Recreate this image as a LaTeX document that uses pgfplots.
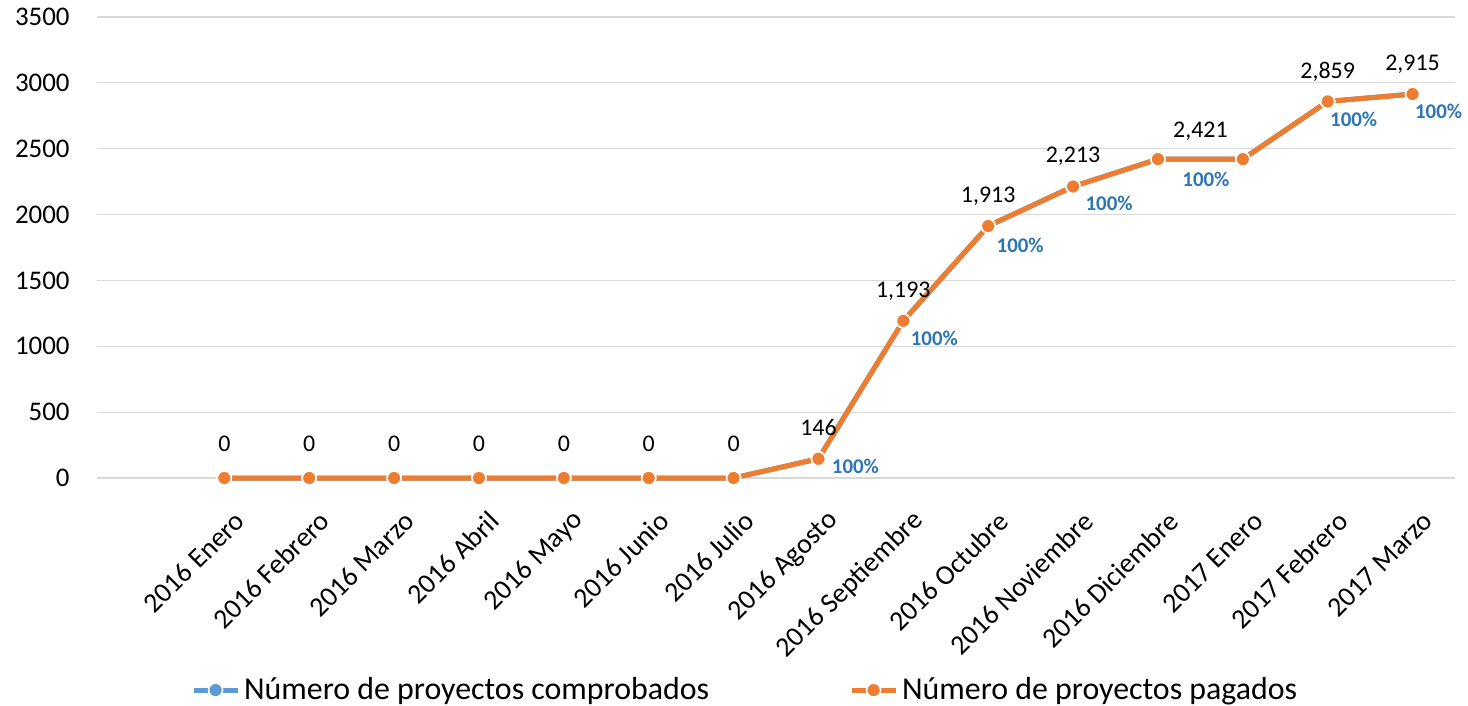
\documentclass[border=0pt]{standalone}
\usepackage{pgfplots}
\pgfplotsset{compat=1.18}
\usepackage{fontspec}
\setmainfont{Carlito}
\definecolor{xorange}{HTML}{ED7D31}
\definecolor{xblue}{HTML}{5B9BD5}
\definecolor{lblblue}{HTML}{2E75B6}
\definecolor{gridgray}{HTML}{D9D9D9}
\tikzset{vlab/.style={font=\fontsize{12}{14}\selectfont},
  plab/.style={font=\bfseries\fontsize{10.5}{12}\selectfont, text=lblblue}}
\begin{document}
\begin{tikzpicture}
\useasboundingbox (-48.5bp,-114bp) rectangle (685.5bp,239bp);
\begin{axis}[
  at={(0,0)}, anchor=south west,
  scale only axis, width=679bp, height=230.5bp,
  xmin=-1.5, xmax=14.5, ymin=0, ymax=3500,
  axis line style={draw=none},
  major tick length=0pt,
  ytick={0,500,...,3500},
  ymajorgrids, grid style={gridgray, line width=0.6bp},
  xtick={0,...,14},
  xticklabels={2016 Enero,2016 Febrero,2016 Marzo,2016 Abril,2016 Mayo,2016 Junio,2016 Julio,2016 Agosto,2016 Septiembre,2016 Octubre,2016 Noviembre,2016 Diciembre,2017 Enero,2017 Febrero,2017 Marzo},
  xticklabel style={rotate=45, anchor=east, font=\fontsize{14}{16}\selectfont, inner sep=0pt, yshift=-19bp, xshift=-8bp},
  yticklabel style={font=\fontsize{13.5}{16}\selectfont, inner sep=0pt, xshift=-13.5bp},
  /pgf/number format/assume math mode=true,
  scaled y ticks=false,
  yticklabel={\pgfmathprintnumber[1000 sep={}]{\tick}},
  clip=false,
  legend columns=2,
  legend style={at={(0.478,-0.46)}, anchor=center, draw=none, font=\fontsize{16}{18}\selectfont,
    /tikz/every even column/.append style={column sep=68bp}},
  legend image code/.code={
    \draw[#1, mark=none] (0bp,0bp) -- (22bp,0bp);
    \draw[#1, only marks] plot coordinates {(11bp,0bp)};
  },
]
\addplot[xblue, line width=2.5bp, mark=*, mark size=3.5bp, mark options={fill=xblue, draw=white, line width=0.8bp}]
  coordinates {(0,0)(1,0)(2,0)(3,0)(4,0)(5,0)(6,0)(7,146)(8,1193)(9,1913)(10,2213)(11,2421)(12,2421)(13,2859)(14,2915)};
\addlegendentry{Número de proyectos comprobados}
\addplot[xorange, line width=2.5bp, mark=*, mark size=3.5bp, mark options={fill=xorange, draw=white, line width=0.8bp}]
  coordinates {(0,0)(1,0)(2,0)(3,0)(4,0)(5,0)(6,0)(7,146)(8,1193)(9,1913)(10,2213)(11,2421)(12,2421)(13,2859)(14,2915)};
\addlegendentry{Número de proyectos pagados}
% value labels
\node[vlab] at (axis cs:0,0) [yshift=17bp] {0};
\node[vlab] at (axis cs:1,0) [yshift=17bp] {0};
\node[vlab] at (axis cs:2,0) [yshift=17bp] {0};
\node[vlab] at (axis cs:3,0) [yshift=17bp] {0};
\node[vlab] at (axis cs:4,0) [yshift=17bp] {0};
\node[vlab] at (axis cs:5,0) [yshift=17bp] {0};
\node[vlab] at (axis cs:6,0) [yshift=17bp] {0};
\node[vlab] at (axis cs:7,146) [yshift=15.5bp] {146};
\node[vlab] at (axis cs:8,1193) [yshift=15bp] {1,193};
\node[vlab] at (axis cs:9,1913) [yshift=15bp] {1,913};
\node[vlab] at (axis cs:10,2213) [yshift=15bp] {2,213};
\node[vlab] at (axis cs:11.5,2421) [yshift=14bp] {2,421};
\node[vlab] at (axis cs:13,2859) [yshift=15bp] {2,859};
\node[vlab] at (axis cs:14,2915) [yshift=15bp] {2,915};
% percentage labels
\node[plab] at (axis cs:7,146) [xshift=18.5bp, yshift=-4bp] {100\%};
\node[plab] at (axis cs:8,1193) [xshift=15.5bp, yshift=-9bp] {100\%};
\node[plab] at (axis cs:9,1913) [xshift=16bp, yshift=-9.5bp] {100\%};
\node[plab] at (axis cs:10,2213) [xshift=18bp, yshift=-8.5bp] {100\%};
\node[plab] at (axis cs:11,2421) [xshift=24bp, yshift=-10bp] {100\%};
\node[plab] at (axis cs:13,2859) [xshift=13bp, yshift=-9bp] {100\%};
\node[plab] at (axis cs:14,2915) [xshift=13bp, yshift=-8.5bp] {100\%};
\end{axis}
\end{tikzpicture}
\end{document}
